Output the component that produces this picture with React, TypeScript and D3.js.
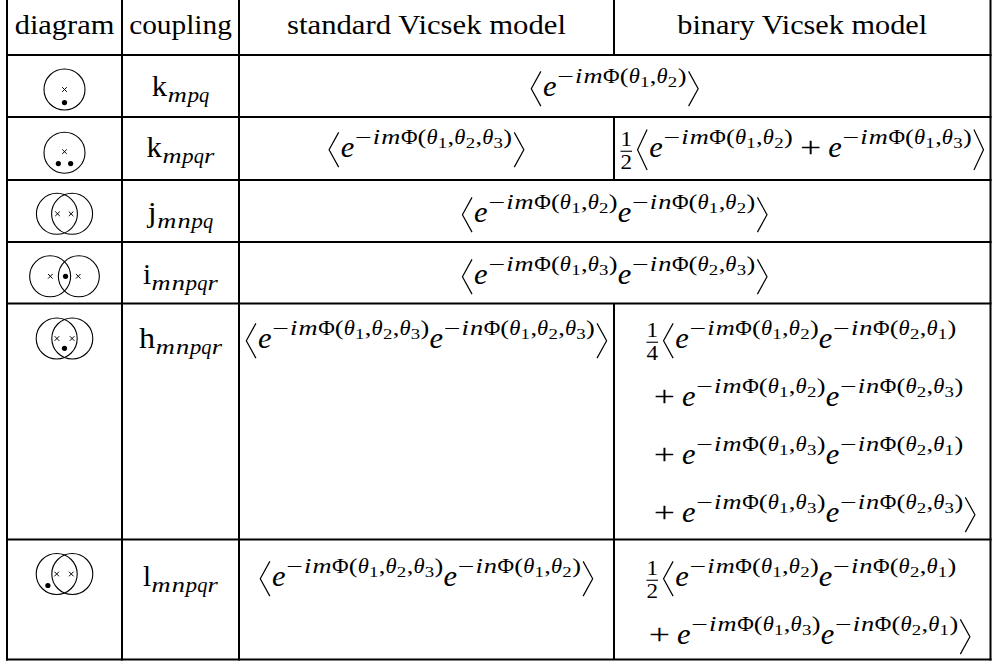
import React, { useMemo } from "react";
import * as d3 from "d3";

// ---- table content ----
const headers = ["diagram", "coupling", "standard Vicsek model", "binary Vicsek model"];
const couplingBase = ["k", "k", "j", "i", "h", "l"];
const couplingIdx = ["mpq", "mpqr", "mnpq", "mnpqr", "mnpqr", "mnpqr"];

// standard Vicsek column (rows where binary is null span both model columns)
const standardModel = [
  String.raw`\langle e^{-im\Phi(\theta_1,\theta_2)}\rangle`,
  String.raw`\langle e^{-im\Phi(\theta_1,\theta_2,\theta_3)}\rangle`,
  String.raw`\langle e^{-im\Phi(\theta_1,\theta_2)}e^{-in\Phi(\theta_1,\theta_2)}\rangle`,
  String.raw`\langle e^{-im\Phi(\theta_1,\theta_3)}e^{-in\Phi(\theta_2,\theta_3)}\rangle`,
  String.raw`\langle e^{-im\Phi(\theta_1,\theta_2,\theta_3)}e^{-in\Phi(\theta_1,\theta_2,\theta_3)}\rangle`,
  String.raw`\langle e^{-im\Phi(\theta_1,\theta_2,\theta_3)}e^{-in\Phi(\theta_1,\theta_2)}\rangle`,
];

const binaryModel: (string[] | null)[] = [
  null,
  [String.raw`\frac12\Langle e^{-im\Phi(\theta_1,\theta_2)} + e^{-im\Phi(\theta_1,\theta_3)}\Rangle`],
  null,
  null,
  [
    String.raw`\frac14\langle e^{-im\Phi(\theta_1,\theta_2)}e^{-in\Phi(\theta_2,\theta_1)}`,
    String.raw`+ e^{-im\Phi(\theta_1,\theta_2)}e^{-in\Phi(\theta_2,\theta_3)}`,
    String.raw`+ e^{-im\Phi(\theta_1,\theta_3)}e^{-in\Phi(\theta_2,\theta_1)}`,
    String.raw`+ e^{-im\Phi(\theta_1,\theta_3)}e^{-in\Phi(\theta_2,\theta_3)}\rangle`,
  ],
  [
    String.raw`\frac12\langle e^{-im\Phi(\theta_1,\theta_2)}e^{-in\Phi(\theta_2,\theta_1)}`,
    String.raw`+ e^{-im\Phi(\theta_1,\theta_3)}e^{-in\Phi(\theta_2,\theta_1)}\rangle`,
  ],
];

// diagrams, in units of the circle radius
const diagramCircles = [[0], [0], [-0.37, 0.37], [-0.7, 0.7], [-0.38, 0.38], [-0.38, 0.38]];
const diagramCrosses = [
  [[0, 0]],
  [[0, -0.05]],
  [[-0.34, 0], [0.32, 0]],
  [[-0.69, 0], [0.67, 0]],
  [[-0.37, 0], [0.37, 0]],
  [[-0.38, 0], [0.33, 0]],
];
const diagramDots = [
  [[0, 0.64]],
  [[-0.3, 0.53], [0.3, 0.53]],
  [],
  [[0.05, 0]],
  [[0, 0.48]],
  [[-0.81, 0.56]],
];

// ---- layout ----
const W = 992;
const H = 661;
const colX = [7, 122, 239, 614, 990.5];
const rowY = [-1, 55, 117, 180, 242, 303.5, 539.5, 659.5];
const headBase = 34;
const rowBase = [96, 157, 222, 284, 348, 586];
const diagY = [89.5, 152.7, 213.8, 276.3, 338.5, 574];
const binaryLeft = [0, 617, 0, 0, 643, 643];
const binaryIndent = [0, 0, 0, 0, 10, 5];
const lineGap = 58;
const M = 29; // math size
const HEAD = 28; // header text size
const FONT = '"Liberation Serif", "Times New Roman", serif';

// advance widths (em) of the TeX fonts at text / script / scriptscript size
const mathItalicW: Record<string, number[]> = {
  e: [0.466, 0.531, 0.6],
  i: [0.345, 0.404, 0.47],
  m: [0.878, 1.0, 1.1],
  n: [0.6, 0.706, 0.8],
  p: [0.503, 0.573, 0.65],
  q: [0.446, 0.502, 0.57],
  r: [0.451, 0.524, 0.6],
  "\u03B8": [0.469, 0.547, 0.63],
};
const romanW: Record<string, number[]> = {
  "\u03A6": [0.722, 0.815, 0.9],
  "(": [0.389, 0.446, 0.5],
  ")": [0.389, 0.446, 0.5],
  "1": [0.5, 0.569, 0.681],
  "2": [0.5, 0.569, 0.681],
  "3": [0.5, 0.569, 0.681],
  "4": [0.5, 0.569, 0.681],
  ",": [0.278, 0.339, 0.4],
  "+": [0.778, 0.893, 1.0],
  "\u2212": [0.778, 0.893, 1.0],
  k: [0.528],
  j: [0.306],
  i: [0.278],
  h: [0.556],
  l: [0.278],
};
const textW: Record<string, number> = {
  a: 0.5, b: 0.556, c: 0.444, d: 0.556, e: 0.444, g: 0.5, i: 0.278, k: 0.528, l: 0.278,
  m: 0.833, n: 0.556, o: 0.5, p: 0.556, r: 0.392, s: 0.394, t: 0.389, u: 0.556, y: 0.528,
  V: 0.75, " ": 0.333,
};

type Node =
  | { k: "ch"; s: string; it: boolean }
  | { k: "sup" | "sub"; body: Node[] }
  | { k: "delim"; left: boolean; big: boolean }
  | { k: "frac"; num: string; den: string }
  | { k: "bin"; s: string }
  | { k: "punct"; s: string };

type Item =
  | { t: "text"; x: number; y: number; s: string; size: number; it: boolean; sx: number }
  | { t: "path"; pts: [number, number][]; w: number };

interface Box {
  w: number;
  items: Item[];
}

let ctx: CanvasRenderingContext2D | null = null;
function measure(s: string, size: number, it: boolean) {
  if (!ctx) ctx = document.createElement("canvas").getContext("2d");
  ctx!.font = `${it ? "italic " : ""}${size}px ${FONT}`;
  return ctx!.measureText(s).width;
}

// one glyph put into a TeX-sized advance box
function glyph(s: string, it: boolean, lvl: number, x: number, y: number, size: number) {
  const tbl = it ? mathItalicW : romanW;
  const w = measure(s, size, it);
  const em = tbl[s] ? tbl[s][Math.min(lvl, tbl[s].length - 1)] : (w / size) * 1.1;
  const adv = em * size;
  const lim = s === "\u2212" ? 1.45 : 1.3;
  const sx = Math.max(0.85, Math.min(lim, adv / w));
  const item: Item = { t: "text", x: x + (adv - w * sx) / 2, y, s, size, it, sx };
  return { item, adv };
}

function parseTex(src: string): Node[] {
  let i = 0;
  const symbols: Record<string, Node> = {
    Phi: { k: "ch", s: "\u03A6", it: false },
    theta: { k: "ch", s: "\u03B8", it: true },
    langle: { k: "delim", left: true, big: false },
    rangle: { k: "delim", left: false, big: false },
    Langle: { k: "delim", left: true, big: true },
    Rangle: { k: "delim", left: false, big: true },
  };
  const charNode = (c: string): Node => {
    if (c === "+") return { k: "bin", s: "+" };
    if (c === "-") return { k: "ch", s: "\u2212", it: false };
    if (c === ",") return { k: "punct", s: "," };
    return { k: "ch", s: c, it: /[a-z]/i.test(c) };
  };
  const flat = (ns: Node[]) => ns.map((n) => (n.k === "ch" ? n.s : "")).join("");
  const one = (): Node[] => {
    const c = src[i];
    if (c === "{") {
      i++;
      return list();
    }
    if (c === "\\") {
      i++;
      let name = "";
      while (i < src.length && /[a-zA-Z]/.test(src[i])) name += src[i++];
      if (name === "frac") {
        const num = flat(one());
        const den = flat(one());
        return [{ k: "frac", num, den }];
      }
      return [symbols[name]];
    }
    i++;
    return [charNode(c)];
  };
  const list = (): Node[] => {
    const out: Node[] = [];
    while (i < src.length) {
      const c = src[i];
      if (c === "}") {
        i++;
        break;
      }
      if (c === " ") {
        i++;
        continue;
      }
      if (c === "^" || c === "_") {
        i++;
        out.push({ k: c === "^" ? "sup" : "sub", body: one() });
        continue;
      }
      out.push(...one());
    }
    return out;
  };
  return list();
}

const SCRIPT = [1, 0.7, 0.5];

function layout(nodes: Node[], lvl = 0): Box {
  const size = M * SCRIPT[lvl];
  const items: Item[] = [];
  const axis = -0.25 * M;
  let x = 0;
  const place = (b: Box, dx: number, dy: number) => {
    b.items.forEach((it) => {
      if (it.t === "text") items.push({ ...it, x: it.x + dx, y: it.y + dy });
      else items.push({ ...it, pts: it.pts.map(([a, c]) => [a + dx, c + dy] as [number, number]) });
    });
  };
  nodes.forEach((n) => {
    if (n.k === "ch" || n.k === "punct") {
      const g = glyph(n.s, n.k === "ch" ? n.it : false, lvl, x, 0, size);
      items.push(g.item);
      x += g.adv + (n.k === "punct" && lvl === 0 ? M / 6 : 0);
    } else if (n.k === "bin") {
      if (x > 0) x += 0.222 * M;
      const g = glyph(n.s, false, lvl, x, 0, size);
      items.push(g.item);
      x += g.adv + 0.222 * M;
    } else if (n.k === "sup") {
      const b = layout(n.body, Math.min(lvl + 1, 2));
      place(b, x, lvl === 0 ? -0.45 * M : -0.3 * size);
      x += b.w;
    } else if (n.k === "sub") {
      const b = layout(n.body, Math.min(lvl + 1, 2));
      place(b, x, lvl === 0 ? 0.22 * M : 0.13 * M);
      x += b.w;
    } else if (n.k === "delim") {
      const h = (n.big ? 1.4 : 1.2) * M;
      const a = x + 0.07 * M;
      const b = x + 0.4 * M;
      const pts: [number, number][] = n.left
        ? [[b, axis - h / 2], [a, axis], [b, axis + h / 2]]
        : [[a, axis - h / 2], [b, axis], [a, axis + h / 2]];
      items.push({ t: "path", pts, w: 1.2 });
      x += 0.472 * M;
    } else if (n.k === "frac") {
      const fs = M * 0.7;
      const gn = glyph(n.num, false, 1, 0, -0.37 * M, fs);
      const gd = glyph(n.den, false, 1, 0, 0.4 * M, fs);
      const bw = Math.max(gn.adv, gd.adv);
      const nd = 0.12 * M;
      if (gn.item.t === "text") items.push({ ...gn.item, x: gn.item.x + x + nd + (bw - gn.adv) / 2 });
      if (gd.item.t === "text") items.push({ ...gd.item, x: gd.item.x + x + nd + (bw - gd.adv) / 2 });
      items.push({ t: "path", pts: [[x + nd, axis + 1.5], [x + nd + bw, axis + 1.5]], w: 1.1 });
      x += bw + 2 * nd;
    }
  });
  return { w: x, items };
}

const lineGen = d3.line();

function Formula({ box, x, y }: { box: Box; x: number; y: number }) {
  return (
    <g transform={`translate(${x},${y})`}>
      {box.items.map((it, i) =>
        it.t === "text" ? (
          <text
            key={i}
            transform={`translate(${it.x.toFixed(2)},${it.y.toFixed(2)}) scale(${it.sx.toFixed(3)},1)`}
            fontSize={it.size}
            fontStyle={it.it ? "italic" : "normal"}
            fontFamily={FONT}
            fill="#000"
          >
            {it.s}
          </text>
        ) : (
          <path key={i} d={lineGen(it.pts) || ""} fill="none" stroke="#000" strokeWidth={it.w} />
        )
      )}
    </g>
  );
}

function Diagram({ r, cx, cy }: { r: number; cx: number; cy: number }) {
  const u = d3.scaleLinear().domain([-1, 1]).range([-20.5, 20.5]);
  const rad = u(1);
  const c = 2.3;
  return (
    <g transform={`translate(${cx},${cy})`}>
      {diagramCircles[r].map((v, i) => (
        <circle key={"c" + i} cx={u(v)} cy={0} r={rad} fill="none" stroke="#000" strokeWidth={1.1} />
      ))}
      {diagramCrosses[r].map(([a, b], i) => (
        <path
          key={"x" + i}
          d={`M${u(a) - c},${u(b) - c}L${u(a) + c},${u(b) + c}M${u(a) - c},${u(b) + c}L${u(a) + c},${u(b) - c}`}
          stroke="#000"
          strokeWidth={1}
        />
      ))}
      {diagramDots[r].map(([a, b], i) => (
        <circle key={"d" + i} cx={u(a)} cy={u(b)} r={2.6} fill="#000" />
      ))}
    </g>
  );
}

export default function App() {
  const cells = useMemo(() => {
    const out: React.ReactNode[] = [];
    couplingBase.forEach((base, r) => {
      const yb = rowBase[r];
      const cb = layout([{ k: "ch", s: base, it: false }, { k: "sub", body: parseTex(couplingIdx[r]) }]);
      out.push(<Formula key={"cp" + r} box={cb} x={(colX[1] + colX[2]) / 2 - cb.w / 2} y={yb} />);
      const sb = layout(parseTex(standardModel[r]));
      const bin = binaryModel[r];
      const sc = bin ? (colX[2] + colX[3]) / 2 : (colX[2] + colX[4]) / 2;
      out.push(<Formula key={"st" + r} box={sb} x={sc - sb.w / 2} y={yb} />);
      if (bin) {
        bin.forEach((s, i) => {
          const b = layout(parseTex(s));
          out.push(
            <Formula
              key={`bn${r}-${i}`}
              box={b}
              x={binaryLeft[r] + (i > 0 ? binaryIndent[r] : 0)}
              y={yb + i * lineGap}
            />
          );
        });
      }
    });
    return out;
  }, []);

  const headCenters = [0, 1, 2, 3].map((i) => (colX[i] + colX[i + 1]) / 2);
  const headLen = headers.map((h) => d3.sum(h.split(""), (ch) => textW[ch] ?? 0.5) * HEAD);
  const splitRows = [0, 2, 5, 6];

  return (
    <svg width={W} height={H} style={{ position: "absolute", left: 0, top: 0, background: "#fff" }}>
      <rect width={W} height={H} fill="#fff" />
      {headers.map((h, i) => (
        <text
          key={h}
          x={headCenters[i] - headLen[i] / 2}
          y={headBase}
          textLength={headLen[i]}
          lengthAdjust="spacingAndGlyphs"
          fontSize={HEAD}
          fontFamily={FONT}
          fill="#000"
        >
          {h}
        </text>
      ))}
      {couplingBase.map((_, r) => (
        <Diagram key={"dg" + r} r={r} cx={(colX[0] + colX[1]) / 2} cy={diagY[r]} />
      ))}
      {cells}
      <g stroke="#000" strokeWidth={2}>
        {rowY.slice(1).map((y) => (
          <line key={"h" + y} x1={colX[0] - 1} x2={colX[4] + 1} y1={y} y2={y} />
        ))}
        {[0, 1, 2, 4].map((c) => (
          <line key={"v" + c} x1={colX[c]} x2={colX[c]} y1={rowY[0]} y2={rowY[7] + 1} />
        ))}
        {splitRows.map((r) => (
          <line key={"s" + r} x1={colX[3]} x2={colX[3]} y1={rowY[r]} y2={rowY[r + 1]} />
        ))}
      </g>
    </svg>
  );
}
